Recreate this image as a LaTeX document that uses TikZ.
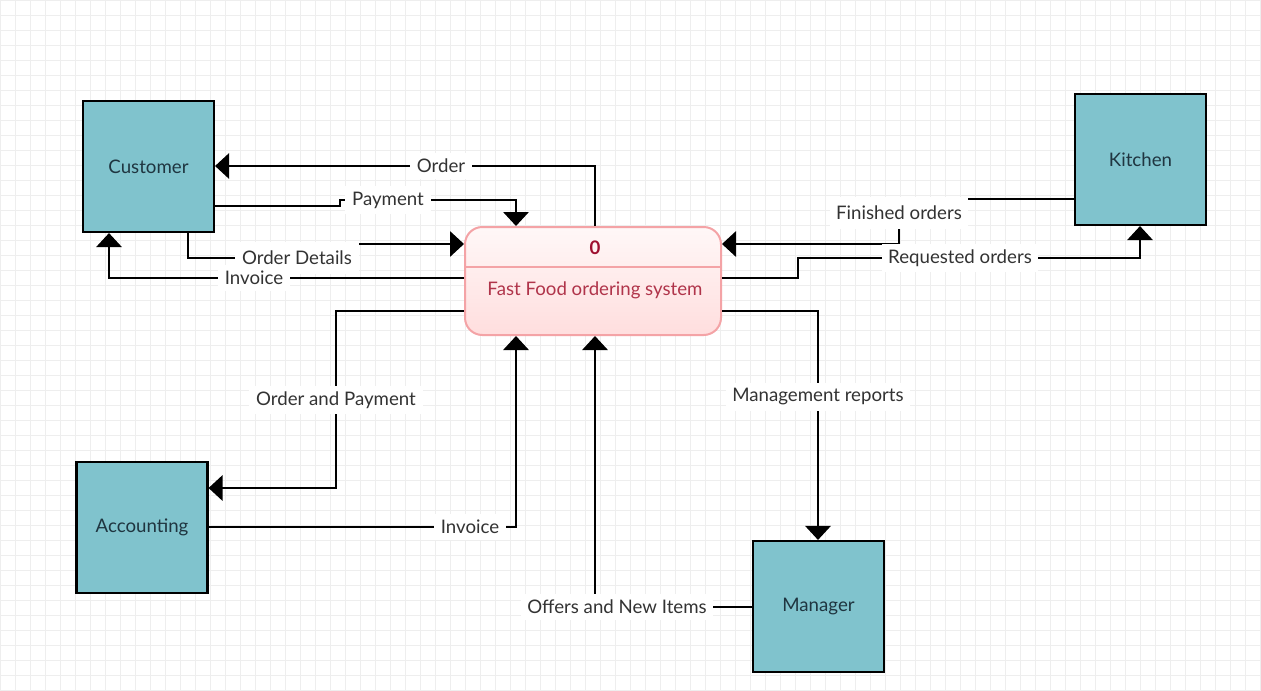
\documentclass[tikz,border=0pt]{standalone}
\usepackage{fontspec}
\setmainfont{Lato}
\usetikzlibrary{arrows.meta,calc}
\definecolor{boxc}{HTML}{80C3CD}
\definecolor{entc}{HTML}{1F3540}
\definecolor{labc}{HTML}{333333}
\definecolor{gridc}{HTML}{EEEEEE}
\definecolor{procborder}{HTML}{F4A3A6}
\definecolor{proctext}{HTML}{B0344A}
\definecolor{proczero}{HTML}{9E1030}
\tikzset{
  ent/.style={draw=black, line width=1.6pt, fill=boxc, minimum width=98.25pt, minimum height=98.25pt, text=entc, font=\fontsize{14pt}{16pt}\selectfont},
  proc/.style={draw=procborder, line width=1.5pt, rounded corners=13pt, top color=red!3, bottom color=red!13, minimum width=192pt, minimum height=81pt},
  flow/.style={line width=1.6pt, -{Triangle[length=10.5pt,width=19pt]}},
  lbl/.style={fill=white, inner xsep=5pt, inner ysep=4.5pt, text=labc, font=\fontsize{14pt}{16pt}\selectfont},
}
\begin{document}
\begin{tikzpicture}[x=0.75pt,y=-0.75pt]
\useasboundingbox (0,0) rectangle (1261,690);
\fill[white] (0,0) rectangle (1261,690);
\draw[gridc, line width=0.5pt, step=11.25pt] (0,0) grid (1261,690);

% entities
\node[ent] (C) at (148.5,166.5) {Customer};
\node[ent] (K) at (1140.5,159.5) {Kitchen};
\node[ent] (A) at (142,527.5) {Accounting};
\node[ent] (M) at (818.5,606.5) {Manager};

% process
\node[proc] (P) at (593,281) {};
\draw[procborder, line width=1.5pt] (P.west |- 0,267) -- (P.east |- 0,267);
\node[text=proczero, font=\bfseries\fontsize{14pt}{16pt}\selectfont] (Z) at (595,248) {0};
\node[text=proctext, font=\fontsize{14pt}{16pt}\selectfont] (N) at (595,290) {Fast Food ordering system};

% connectors
\draw[flow] (P.north -| 595,0) -- (595,166) -- (C.east |- 0,166);
\draw[flow] (C.east |- 0,206) -- (340,206) -- (340,200) -- (516,200) -- (P.north -| 516,0);
\draw[flow] (C.south -| 188,0) -- (188,258) -- (350,258) -- (350,244) -- (P.west |- 0,244);
\draw[flow] (P.west |- 0,278) -- (109,278) -- (C.south -| 109,0);
\draw[flow] (K.west |- 0,199) -- (899,199) -- (899,244) -- (P.east |- 0,244);
\draw[flow] (P.east |- 0,278) -- (798,278) -- (798,258) -- (1140,258) -- (K.south -| 1140,0);
\draw[flow] (P.west |- 0,311) -- (336,311) -- (336,488) -- (A.east |- 0,488);
\draw[flow] (A.east |- 0,527) -- (516,527) -- (P.south -| 516,0);
\draw[flow] (M.west |- 0,607) -- (595,607) -- (P.south -| 595,0);
\draw[flow] (P.east |- 0,311) -- (818,311) -- (M.north -| 818,0);

% labels
\node[lbl] (l1) at (441,166) {Order};
\node[lbl] (l2) at (388,200) {Payment};
\node[lbl, inner ysep=6.6pt] (l3) at (297,258) {Order Details};
\node[lbl] (l4) at (254,278) {Invoice};
\node[lbl, inner ysep=7pt] (l5) at (899,213) {Finished orders};
\node[lbl] (l6) at (960,258) {Requested orders};
\node[lbl] (l7) at (336,400) {Order and Payment};
\node[lbl] (l8) at (470,527) {Invoice};
\node[lbl] (l9) at (617,607) {Offers and New Items};
\node[lbl] (l10) at (818,397) {Management reports};
\end{tikzpicture}
\end{document}
